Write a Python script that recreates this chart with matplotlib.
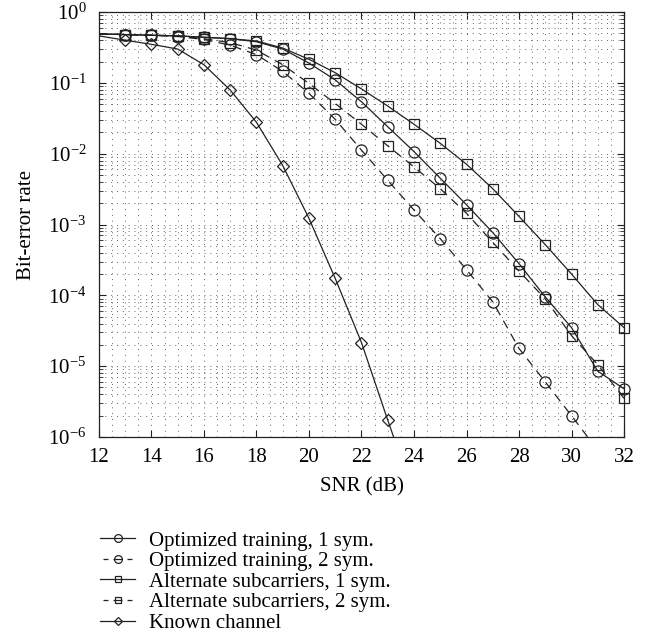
import numpy as np
import matplotlib
matplotlib.use("Agg")
import matplotlib.pyplot as plt
from matplotlib.ticker import MultipleLocator, LogLocator, NullFormatter

plt.rcParams['font.family'] = ['Liberation Serif', 'DejaVu Serif']
plt.rcParams['mathtext.fontset'] = 'stix'

snr = [12, 13, 14, 15, 16, 17, 18, 19, 20, 21, 22, 23, 24, 25, 26, 27, 28, 29, 30, 31, 32]
opt_1sym = [0.49, 0.48, 0.47, 0.46, 0.44, 0.42, 0.38, 0.30, 0.19, 0.11, 0.054, 0.024, 0.0107,
            0.0045, 0.0019, 7.7e-4, 2.8e-4, 9.5e-5, 3.5e-5, 8.5e-6, 4.8e-6]
opt_2sym = [0.49, 0.48, 0.47, 0.45, 0.41, 0.34, 0.25, 0.145, 0.071, 0.0305, 0.0112, 0.0042,
            0.0016, 6.3e-4, 2.3e-4, 8.1e-5, 1.78e-5, 6e-6, 2e-6, 6.5e-7]
alt_1sym = [0.49, 0.48, 0.47, 0.46, 0.44, 0.42, 0.39, 0.31, 0.215, 0.139, 0.082, 0.047, 0.026,
            0.014, 0.0071, 0.0032, 0.0013, 5.2e-4, 2.0e-4, 7.4e-5, 3.5e-5]
alt_2sym = [0.49, 0.48, 0.47, 0.46, 0.42, 0.37, 0.29, 0.18, 0.098, 0.051, 0.026, 0.0129, 0.0065,
            0.0032, 0.00144, 5.6e-4, 2.2e-4, 8.9e-5, 2.7e-5, 1.05e-5, 3.5e-6]
known = [0.46, 0.40, 0.35, 0.30, 0.18, 0.079, 0.0277, 0.0068, 0.00122, 1.73e-4, 2.15e-5, 1.73e-6, 1.5e-7]

labels = ['Optimized training, 1 sym.', 'Optimized training, 2 sym.',
          'Alternate subcarriers, 1 sym.', 'Alternate subcarriers, 2 sym.', 'Known channel']

fig = plt.figure(figsize=(6.55, 6.42), dpi=100)
ax = fig.add_axes([0.1511, 0.3193, 0.8016, 0.662])

col = '#222222'
fs = 15
series = [
    (opt_1sym, 'o', 8, '-'),
    (opt_2sym, 'o', 8, '--'),
    (alt_1sym, 's', 6.5, '-'),
    (alt_2sym, 's', 6.5, '--'),
    (known, 'D', 6, '-'),
]
handles = []
for (vals, mk, ms, ls), lab in zip(series, labels):
    x = np.array(snr[:len(vals)])
    y = np.array(vals)
    # line clipped to the axes
    line, = ax.semilogy(x, y, color=col, lw=0.9, ls=ls)
    if ls == '--':
        line.set_dashes((7, 5))
    # markers (skip the first point, keep those inside the y range), not clipped
    keep = (x > 12) & (y >= 1e-6)
    ax.semilogy(x[keep], y[keep], ls='none', marker=mk, ms=ms, mfc='none',
                mec=col, mew=0.9, clip_on=False)
    h, = ax.plot([], [], color=col, lw=0.9, marker=mk, ms=ms * 0.7, mfc='none',
                 mec=col, mew=0.9, label=lab)
    if ls == '--':
        h.set_linestyle((25.6, (4, 4, 7.2, 4, 4, 4.8)))
    handles.append(h)

ax.set_xlim(12, 32)
ax.set_ylim(1e-6, 1)
ax.xaxis.set_major_locator(MultipleLocator(2))
ax.xaxis.set_minor_locator(MultipleLocator(0.5))
ax.yaxis.set_major_locator(LogLocator(base=10, numticks=10))
ax.yaxis.set_minor_locator(LogLocator(base=10, subs=np.arange(2, 10), numticks=20))
ax.yaxis.set_minor_formatter(NullFormatter())

ax.grid(True, which='both', color='#666666', ls=(0, (1, 5)), lw=0.7)
ax.tick_params(which='both', direction='in', top=True, right=True, labelsize=fs, color=col)
ax.tick_params(which='major', length=5)
ax.tick_params(axis='x', which='major', pad=8)
ax.tick_params(axis='y', which='major', pad=9)
ax.tick_params(axis='x', which='minor', length=0)
ax.tick_params(axis='y', which='minor', length=3)
for s in ax.spines.values():
    s.set_color(col)
    s.set_linewidth(0.9)

ax.set_xlabel('SNR (dB)', fontsize=fs, labelpad=7)
ax.set_ylabel('Bit-error rate', fontsize=fs, labelpad=9)

leg = fig.legend(handles=handles, loc='upper left', bbox_to_anchor=(0.140, 0.186),
                 frameon=False, fontsize=fs, handlelength=1.7, handletextpad=0.65,
                 labelspacing=0.05, borderaxespad=0)

fig.savefig('out.png', dpi=100)
